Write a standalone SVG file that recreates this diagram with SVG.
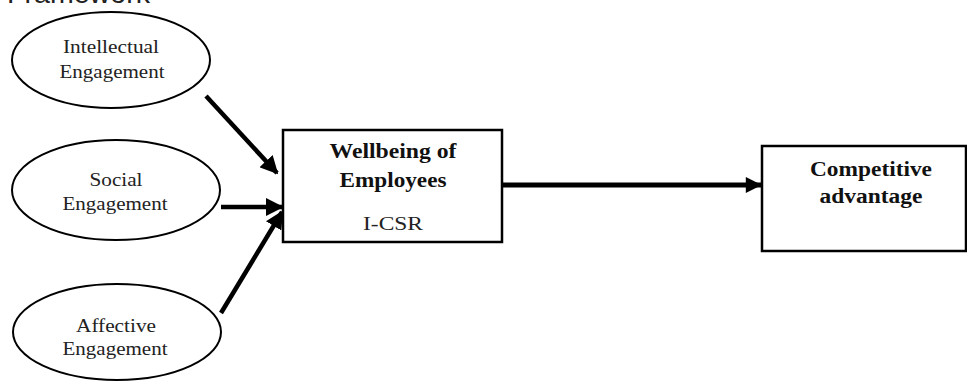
<svg xmlns="http://www.w3.org/2000/svg" width="967" height="381" viewBox="0 0 967 381">
<style>
.ell{fill:#fff;stroke:#000;stroke-width:2}
.box{fill:#fff;stroke:#000;stroke-width:2.5}
.t{font-family:"Liberation Serif","Times New Roman",serif;font-size:19px;fill:#222;text-anchor:middle}
.b{font-family:"Liberation Serif","Times New Roman",serif;font-size:20.5px;font-weight:bold;fill:#111;text-anchor:middle}
.con{stroke:#000;stroke-width:4.5;fill:none}
</style>
<defs>
<marker id="ah" viewBox="0 0 10 10" refX="9" refY="5" markerWidth="4" markerHeight="4" markerUnits="strokeWidth" orient="auto">
<path d="M0,0 L10,5 L0,10 Z" fill="#000"/>
</marker>
<marker id="ah2" viewBox="0 0 10 10" refX="9.5" refY="5" markerWidth="3.4" markerHeight="3.2" markerUnits="strokeWidth" orient="auto">
<path d="M0,0 L10,5 L0,10 Z" fill="#000"/>
</marker>
</defs>
<rect width="967" height="381" fill="#fff"/>
<text x="7" y="3" font-family="'Liberation Sans',Arial,sans-serif" font-size="28" fill="#222" textLength="143" lengthAdjust="spacingAndGlyphs">Framework</text>
<g id="intellectual">
<ellipse class="ell" cx="111" cy="60" rx="99" ry="48"/>
<text class="t" x="111" y="53" textLength="96" lengthAdjust="spacingAndGlyphs">Intellectual</text>
<text class="t" x="112" y="78" textLength="105" lengthAdjust="spacingAndGlyphs">Engagement</text>
</g>
<g id="social">
<ellipse class="ell" cx="116" cy="190" rx="104" ry="50"/>
<text class="t" x="116" y="186" textLength="53" lengthAdjust="spacingAndGlyphs">Social</text>
<text class="t" x="115" y="210" textLength="105" lengthAdjust="spacingAndGlyphs">Engagement</text>
</g>
<g id="affective">
<ellipse class="ell" cx="117" cy="332" rx="104" ry="48"/>
<text class="t" x="116" y="332" textLength="80" lengthAdjust="spacingAndGlyphs">Affective</text>
<text class="t" x="115" y="355" textLength="105" lengthAdjust="spacingAndGlyphs">Engagement</text>
</g>
<g id="wellbeing">
<rect class="box" x="283" y="130" width="219" height="112"/>
<text class="b" x="393" y="158" textLength="127" lengthAdjust="spacingAndGlyphs">Wellbeing of</text>
<text class="b" x="393" y="187" textLength="107" lengthAdjust="spacingAndGlyphs">Employees</text>
<text class="t" x="393" y="230" textLength="60" lengthAdjust="spacingAndGlyphs">I-CSR</text>
</g>
<g id="competitive">
<rect class="box" x="762" y="146" width="204" height="105"/>
<text class="b" x="871" y="176" textLength="122" lengthAdjust="spacingAndGlyphs">Competitive</text>
<text class="b" x="871" y="203" textLength="103" lengthAdjust="spacingAndGlyphs">advantage</text>
</g>
<g id="connectors">
<line class="con" x1="206" y1="96" x2="277" y2="173" marker-end="url(#ah)"/>
<line class="con" x1="221" y1="207" x2="282" y2="207" marker-end="url(#ah)"/>
<line class="con" x1="221" y1="313" x2="282" y2="212" marker-end="url(#ah)"/>
<line x1="502" y1="185" x2="761" y2="185" stroke="#000" stroke-width="5" marker-end="url(#ah2)"/>
</g>
</svg>
